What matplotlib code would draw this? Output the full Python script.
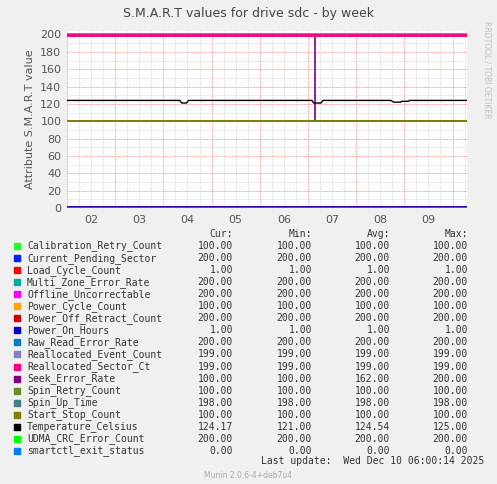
import matplotlib
matplotlib.use('Agg')
from matplotlib import pyplot as plt
import numpy as np

names = ['Calibration_Retry_Count', 'Current_Pending_Sector', 'Load_Cycle_Count',
         'Multi_Zone_Error_Rate', 'Offline_Uncorrectable', 'Power_Cycle_Count',
         'Power_Off_Retract_Count', 'Power_On_Hours', 'Raw_Read_Error_Rate',
         'Reallocated_Event_Count', 'Reallocated_Sector_Ct', 'Seek_Error_Rate',
         'Spin_Retry_Count', 'Spin_Up_Time', 'Start_Stop_Count', 'Temperature_Celsius',
         'UDMA_CRC_Error_Count', 'smartctl_exit_status']
colors = ['#22ff22', '#0022ff', '#ff0000', '#00aaaa', '#ff00ff', '#ffa500',
          '#cc0000', '#0000cc', '#0080c0', '#8080c0', '#ff0080', '#800080',
          '#688e23', '#408080', '#808000', '#000000', '#00ff00', '#0080ff']
cur = [100, 200, 1, 200, 200, 100, 200, 1, 200, 199, 199, 100, 100, 198, 100, 124.17, 200, 0]
mins = [100, 200, 1, 200, 200, 100, 200, 1, 200, 199, 199, 100, 100, 198, 100, 121, 200, 0]
avgs = [100, 200, 1, 200, 200, 100, 200, 1, 200, 199, 199, 162, 100, 198, 100, 124.54, 200, 0]
maxs = [100, 200, 1, 200, 200, 100, 200, 1, 200, 199, 199, 200, 100, 198, 100, 125, 200, 0]

# time in days
t_start, t_end = 2.0, 10.3
seek_t = [2.0, 7.15, 7.15, 10.3]
seek_v = [200, 200, 100, 100]
temp_t = [2.0, 4.34, 4.38, 4.48, 4.52, 7.08, 7.12, 7.27, 7.31, 8.72, 8.78, 8.92, 8.95, 9.08, 9.11, 10.3]
temp_v = [124, 124, 121, 121, 124, 124, 121, 121, 124, 124, 122, 122, 123, 123, 124, 124]
day_labels = ['02', '03', '04', '05', '06', '07', '08', '09']

bg = '#f0f0f0'
fig = plt.figure(figsize=(4.97, 4.84), dpi=100, facecolor=bg)
ax = fig.add_axes([67 / 497, 1 - 208 / 484, 400 / 497, 177 / 484])
ax.set_facecolor('white')

for i in range(len(names)):
    if names[i] == 'Seek_Error_Rate':
        ax.plot(seek_t, seek_v, color=colors[i], lw=1.2, zorder=2)
    elif names[i] == 'Temperature_Celsius':
        ax.plot(temp_t, temp_v, color=colors[i], lw=1, zorder=3)
    else:
        z = 2.5 if cur[i] == 199 else 2
        lw = 2.0 if cur[i] == 199 else 1.2
        ax.plot([t_start, t_end], [cur[i], cur[i]], color=colors[i], lw=lw, zorder=z)

ax.set_xlim(t_start, t_end)
ax.set_ylim(0, 204)
ax.set_yticks(range(0, 201, 20))
ax.set_yticks(range(0, 201, 10), minor=True)
ax.set_xticks(np.arange(2, 10.01, 1))
ax.set_xticks(np.arange(2, 10.3, 0.25), minor=True)
ax.set_xticklabels([])
for k, lab in enumerate(day_labels):
    ax.text(2.5 + k, -8, lab, ha='center', va='top', fontsize=8, color='#555555')
ax.grid(which='minor', color='#c8c8c8', linestyle=(0, (1, 1)), lw=0.5)
ax.grid(which='major', color='#ff8080', linestyle=(0, (1, 1)), lw=0.6)
ax.tick_params(which='both', length=0, labelsize=8, colors='#555555', pad=4)
for s in ax.spines.values():
    s.set_visible(False)
ax.set_ylabel('Attribute S.M.A.R.T value', fontsize=8, color='#555555')

fig.text(0.5, 1 - 13 / 484, 'S.M.A.R.T values for drive sdc - by week', ha='center', va='center',
         fontsize=9, color='#444444')
fig.text(487 / 497, 1 - 70 / 484, 'RRDTOOL / TOBI OETIKER', rotation=270, ha='center', va='center',
         fontsize=5.5, color='#c0c0c0')

mono = 'DejaVu Sans Mono'
fs = 7
y0 = 234
cols_x = [233, 312, 390, 468]
for h, xx in zip(['Cur:', 'Min:', 'Avg:', 'Max:'], cols_x):
    fig.text(xx / 497, 1 - y0 / 484, h, ha='right', va='center', fontsize=fs, family=mono, color='#333333')
for i, n in enumerate(names):
    y = 1 - (y0 + 12 + i * 12.05) / 484
    fig.patches.append(plt.Rectangle((14 / 497, y - 3 / 484), 6 / 497, 6 / 484,
                                     transform=fig.transFigure, color=colors[i]))
    fig.text(27 / 497, y, n, ha='left', va='center', fontsize=fs, family=mono, color='#333333')
    for v, xx in zip([cur[i], mins[i], avgs[i], maxs[i]], cols_x):
        fig.text(xx / 497, y, f'{v:.2f}', ha='right', va='center', fontsize=fs, family=mono, color='#333333')

fig.text(484 / 497, 1 - 461 / 484, 'Last update:  Wed Dec 10 06:00:14 2025', ha='right', va='center',
         fontsize=fs, family=mono, color='#333333')
fig.text(0.5, 1 - 475 / 484, 'Munin 2.0.6-4+deb7u4', ha='center', va='center', fontsize=5.5, color='#aaaaaa')

fig.savefig('out.png', dpi=100, facecolor=bg)
